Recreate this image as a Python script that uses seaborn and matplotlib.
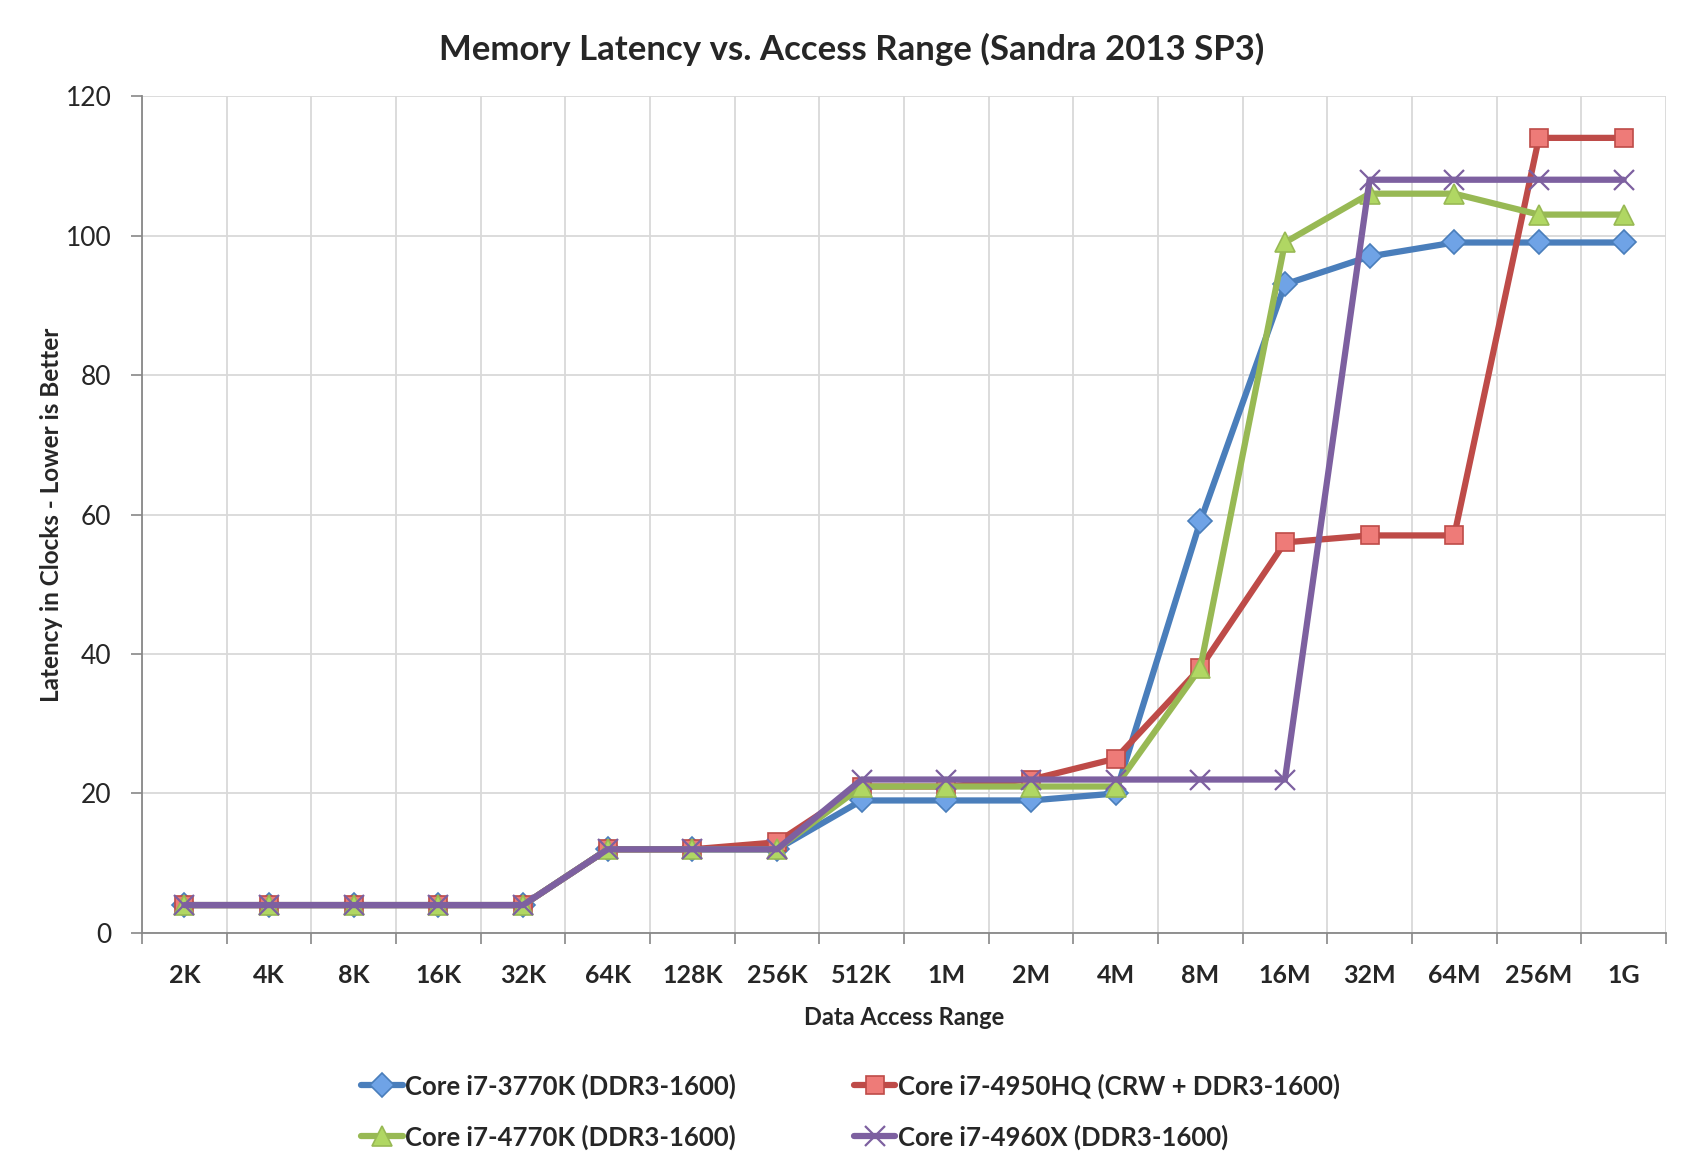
import numpy as np
import pandas as pd
import seaborn as sns
import matplotlib.pyplot as plt
from matplotlib.ticker import MultipleLocator, FixedLocator

# data
sizes = ["2K", "4K", "8K", "16K", "32K", "64K", "128K", "256K", "512K",
         "1M", "2M", "4M", "8M", "16M", "32M", "64M", "256M", "1G"]
i7_3770k = [4, 4, 4, 4, 4, 12, 12, 12, 19, 19, 19, 20, 59, 93, 97, 99, 99, 99]
i7_4950hq = [4, 4, 4, 4, 4, 12, 12, 13, 21, 21, 22, 25, 38, 56, 57, 57, 114, 114]
i7_4770k = [4, 4, 4, 4, 4, 12, 12, 12, 21, 21, 21, 21, 38, 99, 106, 106, 103, 103]
i7_4960x = [4, 4, 4, 4, 4, 12, 12, 12, 22, 22, 22, 22, 22, 22, 108, 108, 108, 108]

names = ["Core i7-3770K (DDR3-1600)", "Core i7-4950HQ (CRW + DDR3-1600)",
         "Core i7-4770K (DDR3-1600)", "Core i7-4960X (DDR3-1600)"]
line_cols = ["#4A7EBB", "#BE4B48", "#98B954", "#7D60A0"]
face_cols = ["#6FA3E6", "#EE7B78", "#B0D763", "#7D60A0"]
marks = ["D", "s", "^", "x"]
msizes = [12, 13, 14, 14]

pos = np.arange(len(sizes))

sns.set_style("white")
plt.rcParams['font.family'] = ['Lato', 'DejaVu Sans']

fig = plt.figure(figsize=(16.93, 11.74), dpi=100)
ax = fig.add_axes([0.0839, 0.2053, 0.9001, 0.7129])

for nm, vals, lc, fc, mk, ms in zip(names, [i7_3770k, i7_4950hq, i7_4770k, i7_4960x],
                                    line_cols, face_cols, marks, msizes):
    d = pd.DataFrame({"x": pos, "lat": vals})
    sns.lineplot(data=d, x="x", y="lat", color=lc, marker=mk, markersize=ms,
                 markerfacecolor=fc, markeredgecolor=lc,
                 markeredgewidth=1.6 if mk == "x" else 1.2,
                 linewidth=4.5, estimator=None, sort=False, label=nm, ax=ax)

ax.set_xlim(-0.5, len(sizes) - 0.5)
ax.set_ylim(0, 120)
ax.yaxis.set_major_locator(MultipleLocator(20))
ax.set_xticks(pos)
ax.set_xticklabels(sizes, fontsize=18, fontweight="bold")
ax.xaxis.set_minor_locator(FixedLocator(np.arange(-0.5, len(sizes), 1.0)))
ax.tick_params(axis="x", which="major", length=0, pad=22)
ax.tick_params(axis="x", which="minor", length=8, color="#888888", width=1.2, bottom=True)
ax.tick_params(axis="y", labelsize=19, length=8, color="#888888", width=1.2, left=True, pad=14)
ax.grid(True, axis="y", which="major", color="#D9D9D9", linewidth=1.3)
ax.grid(True, axis="x", which="minor", color="#D9D9D9", linewidth=1.3)
ax.grid(False, axis="x", which="major")
ax.set_axisbelow(True)
for side in ["top", "right"]:
    ax.spines[side].set_visible(False)
for side in ["left", "bottom"]:
    ax.spines[side].set_color("#888888")
    ax.spines[side].set_linewidth(1.3)

ax.set_xlabel("Data Access Range", fontsize=17, fontweight="bold", labelpad=14)
ax.set_ylabel("Latency in Clocks - Lower is Better", fontsize=17.5, fontweight="bold", labelpad=2)
fig.suptitle("Memory Latency vs. Access Range (Sandra 2013 SP3)",
             fontsize=25, fontweight="bold", x=0.503, y=0.972)

# legend: Excel row order -> reorder for column filling
h, l = ax.get_legend_handles_labels()
order = [0, 2, 1, 3]
ax.legend([h[i] for i in order], [l[i] for i in order], ncol=2, frameon=False,
          loc="upper center", bbox_to_anchor=(0.465, -0.14), fontsize=18.5,
          handlelength=1.6, handletextpad=0.1, columnspacing=4.6, labelspacing=1.0)
for t in ax.get_legend().get_texts():
    t.set_fontweight("bold")

fig.savefig("out.png", dpi=100)
